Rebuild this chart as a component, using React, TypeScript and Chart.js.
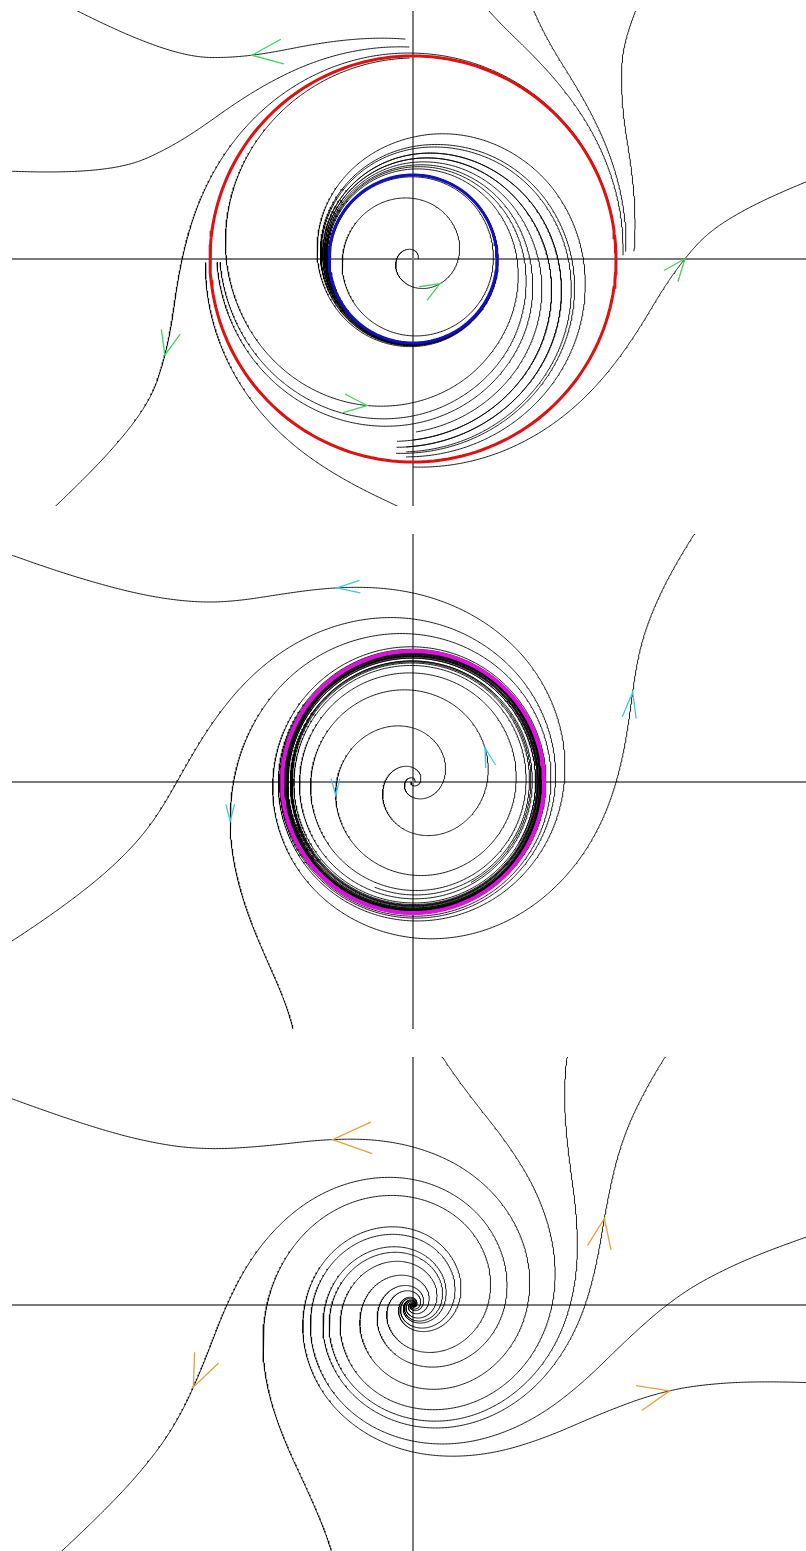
import React, { useEffect, useRef } from "react";
import { Chart, registerables } from "chart.js";

Chart.register(...registerables);

// Plot window (phase plane units, equal scale on both axes)
const X_MIN = -4.01;
const X_MAX = 3.93;
const Y_MIN = -2.47;
const Y_MAX = 2.48;
const PX_PER_UNIT = 100;
const PANEL_W = 794;
const PANEL_H = 495;
const PANEL_TOPS = [11, 534, 1057];

// Radial drift per radian of rotation: dr/dθ = r · rate(r), rate tabulated against r.
// Panel 1: stable inner cycle, unstable outer cycle
const driftRadius1 = [0, 0.4, 0.6, 0.84, 1.0, 1.25, 1.5, 1.64, 1.85, 1.93, 2.03, 2.13, 2.23, 2.43, 2.84, 3.6, 5];
const driftRate1 = [0.4, 0.3, 0.13, 0, -0.13, -0.24, -0.22, -0.18, -0.11, -0.07, 0, 0.065, 0.14, 0.34, 1.0, 3.6, 9];
// Panel 2: one semi-stable cycle
const driftRadius2 = [0, 0.4, 0.64, 0.85, 1.0, 1.06, 1.2, 1.31, 1.38, 1.45, 1.55, 1.7, 1.9, 2.0, 2.2, 2.4, 2.6, 3.1, 3.9, 5];
const driftRate2 = [0.45, 0.4, 0.22, 0.13, 0.057, 0.035, 0.01, 0, 0.025, 0.06, 0.11, 0.145, 0.22, 0.27, 0.41, 0.6, 0.9, 1.9, 3.8, 7];
// Panel 3: no cycle left, only a slow passage
const driftRadius3 = [0, 0.4, 0.7, 1.0, 1.3, 1.5, 1.75, 2.0, 2.4, 2.7, 3.2, 3.6, 5];
const driftRate3 = [0.4, 0.38, 0.3, 0.2, 0.185, 0.23, 0.36, 0.56, 1.05, 1.6, 3.0, 4.5, 10];

// Closed orbits
const cycleRadii1 = [2.03, 0.84];
const cycleRadii2 = [1.31];
const cycleRadii3: number[] = [];

// Trajectory seeds: [radius, angle in degrees, turns forward, turns backward]
type Seed = [number, number, number, number];
const seeds1: Seed[] = [
  [2.2, 92, 2, 0], [2.12, 91, 2, 0], [2.06, 91, 2, 0.3],
  [2.1, 1, 2, 0], [2.13, 2, 2, 0], [2.21, 2, 2, 0],
  [2.075, 181, 2, 0], [2.08, 270, 2, 0],
  [2.01, 91, 4, 0], [1.96, 181, 4, 0], [1.93, 181, 4, 0],
  [1.73, 271, 4, 0], [1.81, 270, 4, 0], [1.88, 268, 4, 0], [1.93, 268, 4, 0], [1.98, 268, 4, 0],
  [1.83, 265, 4, 0], [1.89, 265, 4, 0], [1.95, 265, 4, 0],
  [0.05, 0, 6, 0],
];
const seeds2: Seed[] = [
  [1.89, 90, 2, 8], [1.63, 90, 2, 8], [1.48, 90, 2, 8], [2.03, 0, 2, 8],
  [0.3, 0, 14, 1], [0.28, 180, 14, 1],
  [1.2, 45, 10, 0], [1.24, 200, 10, 0], [1.16, 300, 10, 0], [1.27, 120, 10, 0],
  [1.12, 250, 10, 0], [1.22, 330, 10, 0],
];
const seeds3: Seed[] = [
  [1.58, 90, 2, 10], [1.39, 0, 2, 10], [1.57, 0, 2, 10], [1.72, 0, 2, 10],
  [2.54, 0, 2, 10], [1.47, 270, 2, 10], [1.86, 180, 2, 10], [1.46, 180, 2, 10],
];

// Direction markers: [x, y, arm length in px]
type Marker = [number, number, number];
const arrows1: Marker[] = [[-1.62, 2.1, 33], [-2.63, -0.93, 26], [0.37, -0.43, 21], [-0.46, -1.43, 25], [2.84, -0.1, 24]];
const arrows2: Marker[] = [[-0.76, 1.93, 24], [2.2, 0.9, 27], [0.74, 0.34, 20], [-1.8, -0.38, 17], [-0.81, -0.13, 17]];
const arrows3: Marker[] = [[-0.8, 1.69, 42], [1.97, 0.85, 32], [-2.2, -0.82, 35], [2.6, -0.98, 34]];

type Pt = { x: number; y: number };

function rateAt(rs: number[], ps: number[], r: number): number {
  if (r <= rs[0]) return ps[0];
  for (let i = 1; i < rs.length; i++) {
    if (r <= rs[i]) {
      const t = (r - rs[i - 1]) / (rs[i] - rs[i - 1]);
      return ps[i - 1] + t * (ps[i] - ps[i - 1]);
    }
  }
  const n = rs.length;
  const slope = (ps[n - 1] - ps[n - 2]) / (rs[n - 1] - rs[n - 2]);
  return ps[n - 1] + slope * (r - rs[n - 1]);
}

function traceDir(rs: number[], ps: number[], r0: number, deg: number, turns: number, dir: number): Pt[] {
  const f = (r: number) => r * rateAt(rs, ps, r);
  let r = r0;
  let th = (deg * Math.PI) / 180;
  const out: Pt[] = [{ x: r * Math.cos(th), y: r * Math.sin(th) }];
  const limit = turns * 2 * Math.PI;
  let swept = 0;
  while (swept < limit) {
    const speed = Math.hypot(f(r), r);
    const h = Math.min(0.02, 0.015 / Math.max(speed, 1e-6));
    const dh = dir * h;
    const k1 = f(r);
    const k2 = f(r + (dh / 2) * k1);
    const k3 = f(r + (dh / 2) * k2);
    const k4 = f(r + dh * k3);
    r += (dh / 6) * (k1 + 2 * k2 + 2 * k3 + k4);
    th += dh;
    swept += h;
    if (r < 0.008) break;
    const x = r * Math.cos(th);
    const y = r * Math.sin(th);
    out.push({ x, y });
    if (x < X_MIN - 0.3 || x > X_MAX + 0.3 || y < Y_MIN - 0.3 || y > Y_MAX + 0.3) break;
  }
  return out;
}

function traceSeed(rs: number[], ps: number[], s: Seed): Pt[] {
  const fwd = traceDir(rs, ps, s[0], s[1], s[2], 1);
  if (s[3] <= 0) return fwd;
  const back = traceDir(rs, ps, s[0], s[1], s[3], -1).reverse();
  return back.concat(fwd.slice(1));
}

function circle(radius: number): Pt[] {
  const pts: Pt[] = [];
  for (let a = 0; a <= 360; a += 2) {
    const t = (a * Math.PI) / 180;
    pts.push({ x: radius * Math.cos(t), y: radius * Math.sin(t) });
  }
  return pts;
}

function arrowHead(paths: Pt[][], m: Marker, spreadDeg: number): Pt[] {
  let best = { d: Infinity, p: -1, i: -1 };
  paths.forEach((path, p) => {
    path.forEach((q, i) => {
      const d = (q.x - m[0]) ** 2 + (q.y - m[1]) ** 2;
      if (d < best.d) best = { d, p, i };
    });
  });
  const path = paths[best.p];
  const tip = path[best.i];
  const a = path[Math.max(0, best.i - 2)];
  const b = path[Math.min(path.length - 1, best.i + 2)];
  let dx = b.x - a.x;
  let dy = b.y - a.y;
  const len = Math.hypot(dx, dy) || 1;
  dx /= len;
  dy /= len;
  const L = m[2] / PX_PER_UNIT;
  const s = (spreadDeg * Math.PI) / 180;
  const arm = (sign: number): Pt => {
    const c = Math.cos(sign * s);
    const sn = Math.sin(sign * s);
    const rx = dx * c - dy * sn;
    const ry = dx * sn + dy * c;
    return { x: tip.x - L * rx, y: tip.y - L * ry };
  };
  return [arm(1), { x: tip.x, y: tip.y }, arm(-1)];
}

type PanelProps = {
  radii: number[];
  rates: number[];
  seeds: Seed[];
  cycles: number[];
  cycleColors: string[];
  cycleWidth: number;
  arrows: Marker[];
  arrowColor: string;
  spread: number;
};

function PhasePanel(props: PanelProps) {
  const ref = useRef<HTMLCanvasElement>(null);
  useEffect(() => {
    const canvas = ref.current;
    if (!canvas) return;
    const { radii, rates, seeds, cycles, cycleColors, cycleWidth, arrows, arrowColor, spread } = props;
    const paths = seeds.map((s) => traceSeed(radii, rates, s));
    const datasets: any[] = [];
    const line = (data: Pt[], color: string, width: number, order: number) => ({
      data,
      showLine: true,
      borderColor: color,
      borderWidth: width,
      pointRadius: 0,
      pointHoverRadius: 0,
      fill: false,
      tension: 0,
      order,
    });
    arrows.forEach((m) => datasets.push(line(arrowHead(paths, m, spread), arrowColor, 1.3, 0)));
    cycles.forEach((r, i) => datasets.push(line(circle(r), cycleColors[i], cycleWidth, 1)));
    paths.forEach((p) => datasets.push(line(p, "rgba(0,0,0,0.9)", 1, 2)));
    datasets.push(line([{ x: X_MIN, y: 0 }, { x: X_MAX, y: 0 }], "#7a7a7a", 2, 3));
    datasets.push(line([{ x: 0, y: Y_MIN }, { x: 0, y: Y_MAX }], "#7a7a7a", 2, 3));

    const chart = new Chart(canvas, {
      type: "scatter",
      data: { datasets },
      options: {
        animation: false,
        responsive: false,
        devicePixelRatio: 1,
        events: [],
        layout: { padding: 0 },
        plugins: { legend: { display: false }, tooltip: { enabled: false } },
        scales: {
          x: { type: "linear", min: X_MIN, max: X_MAX, display: false },
          y: { type: "linear", min: Y_MIN, max: Y_MAX, display: false },
        },
      },
    });
    return () => chart.destroy();
  }, []);
  return <canvas ref={ref} width={PANEL_W} height={PANEL_H} style={{ display: "block" }} />;
}

const panels: PanelProps[] = [
  {
    radii: driftRadius1, rates: driftRate1, seeds: seeds1, cycles: cycleRadii1,
    cycleColors: ["#e01010", "#1010c8"], cycleWidth: 3, arrows: arrows1, arrowColor: "#44d060", spread: 22,
  },
  {
    radii: driftRadius2, rates: driftRate2, seeds: seeds2, cycles: cycleRadii2,
    cycleColors: ["#e010e0"], cycleWidth: 4, arrows: arrows2, arrowColor: "#40c8e0", spread: 15,
  },
  {
    radii: driftRadius3, rates: driftRate3, seeds: seeds3, cycles: cycleRadii3,
    cycleColors: [], cycleWidth: 3, arrows: arrows3, arrowColor: "#e8a040", spread: 22,
  },
];

export default function App() {
  return (
    <div style={{ position: "fixed", left: 0, top: 0, width: 806, height: 1551, overflow: "hidden", background: "#fff" }}>
      {panels.map((p, i) => (
        <div key={i} style={{ position: "absolute", left: 12, top: PANEL_TOPS[i], width: PANEL_W, height: PANEL_H }}>
          <PhasePanel {...p} />
        </div>
      ))}
    </div>
  );
}
